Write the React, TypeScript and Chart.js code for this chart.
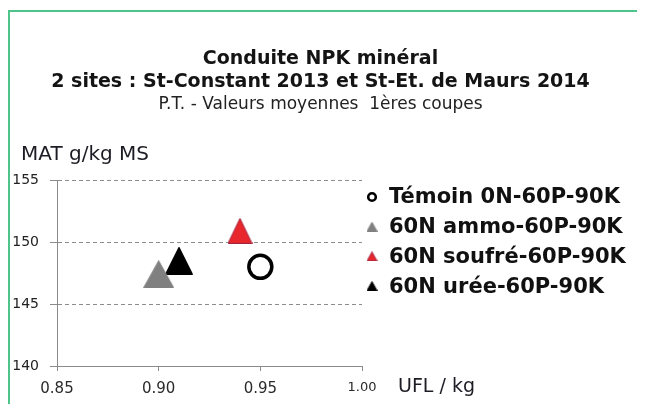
import React, { useEffect, useRef } from 'react';
import { Chart, registerables } from 'chart.js';

Chart.register(...registerables);

// ---- data ----
const seriesLabels = ['Témoin 0N-60P-90K', '60N ammo-60P-90K', '60N soufré-60P-90K', '60N urée-60P-90K'];
const uflValues = [0.95, 0.90, 0.94, 0.91];
const matValues = [148.0, 147.4, 150.9, 148.5];
const xTickValues = [0.85, 0.90, 0.95, 1.00];
const yTickValues = [140, 145, 150, 155];
const titleLines = ['Conduite NPK minéral', '2 sites : St-Constant 2013 et St-Et. de Maurs 2014'];
const subtitleText = 'P.T. - Valeurs moyennes  1ères coupes';
const yAxisTitle = 'MAT g/kg MS';
const xAxisTitle = 'UFL / kg';

// ---- styles ----
const FONT = '"DejaVu Sans", Verdana, sans-serif';
const markerKinds = ['circle', 'triangle', 'triangle', 'triangle'];
const markerFills = ['#ffffff', '#808080', '#e8262c', '#000000'];
const markerStrokes = ['#000000', '#808080', '#a32540', '#000000'];
const markerSizes: [number, number][] = [[24, 24], [31, 28], [25, 26], [28, 28]];

function makeTriangle(w: number, h: number, fill: string, stroke: string) {
  const c = document.createElement('canvas');
  c.width = w;
  c.height = h;
  const g = c.getContext('2d')!;
  g.beginPath();
  g.moveTo(w / 2, 0.5);
  g.lineTo(w - 0.5, h - 0.5);
  g.lineTo(0.5, h - 0.5);
  g.closePath();
  g.fillStyle = fill;
  g.fill();
  g.lineWidth = 1;
  g.strokeStyle = stroke;
  g.stroke();
  return c;
}

export default function App() {
  const ref = useRef<HTMLCanvasElement | null>(null);

  useEffect(() => {
    if (!ref.current) return;
    const bigMarkers = markerKinds.map((k, i) =>
      k === 'circle' ? 'circle' : makeTriangle(markerSizes[i][0], markerSizes[i][1], markerFills[i], markerStrokes[i])
    );
    const smallMarkers = markerKinds.map((k, i) =>
      k === 'circle' ? null : makeTriangle(11, 10, markerFills[i], markerStrokes[i])
    );

    const textPlugin = {
      id: 'customText',
      afterDraw(chart: any) {
        const ctx = chart.ctx as CanvasRenderingContext2D;
        const ca = chart.chartArea;
        ctx.save();
        ctx.fillStyle = '#141414';
        ctx.textAlign = 'center';
        ctx.textBaseline = 'alphabetic';
        const cx = chart.width / 2 - 2;
        ctx.font = `bold 19px ${FONT}`;
        ctx.fillText(titleLines[0], cx, 56);
        ctx.fillText(titleLines[1], cx, 79);
        ctx.font = `17px ${FONT}`;
        ctx.fillStyle = '#222';
        ctx.fillText(subtitleText, cx, 101);

        ctx.textAlign = 'left';
        ctx.font = `20px ${FONT}`;
        ctx.fillStyle = '#1c1c24';
        ctx.fillText(yAxisTitle, 13, ca.top - 20);
        ctx.font = `19px ${FONT}`;
        ctx.fillText(xAxisTitle, ca.right + 36, ca.bottom + 26);

        // legend
        ctx.font = `bold 21px ${FONT}`;
        ctx.textBaseline = 'middle';
        ctx.fillStyle = '#111';
        const mx = ca.right + 10;
        const tx = ca.right + 27;
        chart.data.datasets.forEach((ds: any, i: number) => {
          const y = ca.top + 17 + i * 29.7;
          if (markerKinds[i] === 'circle') {
            ctx.beginPath();
            ctx.arc(mx, y, 3.8, 0, Math.PI * 2);
            ctx.fillStyle = '#fff';
            ctx.fill();
            ctx.lineWidth = 2.6;
            ctx.strokeStyle = '#000';
            ctx.stroke();
          } else {
            const img = smallMarkers[i]!;
            ctx.drawImage(img, mx - img.width / 2, y - img.height / 2);
          }
          ctx.fillStyle = '#111';
          ctx.fillText(ds.label, tx, y + 1);
        });
        ctx.restore();
      },
    };

    const chart = new Chart(ref.current, {
      type: 'scatter',
      data: {
        datasets: seriesLabels.map((label, i) => ({
          label,
          data: [{ x: uflValues[i], y: matValues[i] }],
          pointStyle: bigMarkers[i] as any,
          pointRadius: markerKinds[i] === 'circle' ? 11.5 : 14,
          pointBackgroundColor: markerFills[i],
          pointBorderColor: markerStrokes[i],
          pointBorderWidth: markerKinds[i] === 'circle' ? 3.5 : 0,
          clip: false as any,
        })),
      },
      plugins: [textPlugin],
      options: {
        responsive: false,
        animation: false,
        layout: { padding: { top: 172, right: 275, bottom: 0, left: 0 } },
        plugins: {
          legend: { display: false },
          tooltip: { enabled: false },
          title: { display: false },
        },
        scales: {
          x: {
            type: 'linear',
            min: 0.85,
            max: 1.0,
            afterBuildTicks: (s: any) => {
              s.ticks = xTickValues.map((v) => ({ value: v }));
            },
            afterFit: (s: any) => {
              s.height = 38;
            },
            grid: {
              drawOnChartArea: false,
              drawTicks: true,
              tickLength: 5,
              tickColor: '#8a8a8a',
            },
            border: { color: '#8a8a8a', width: 1 },
            ticks: {
              padding: 9,
              color: '#2a2a2a',
              maxRotation: 0,
              font: (c: any) => ({ family: FONT, size: c.tick && c.tick.value === 1 ? 13 : 15 }),
              callback: (v: any) => Number(v).toFixed(2),
            },
          },
          y: {
            type: 'linear',
            min: 140,
            max: 155,
            afterBuildTicks: (s: any) => {
              s.ticks = yTickValues.map((v) => ({ value: v }));
            },
            afterFit: (s: any) => {
              s.width = 49;
            },
            grid: {
              color: (c: any) => (c.tick && c.tick.value === 140 ? 'rgba(0,0,0,0)' : '#8c8c8c'),
              lineWidth: 1,
              drawTicks: true,
              tickLength: 7,
              tickColor: '#8a8a8a',
            },
            border: { color: '#8a8a8a', width: 1, dash: [4, 3] },
            ticks: {
              padding: 11,
              color: '#222',
              font: { family: FONT, size: 14 },
              callback: (v: any) => String(v),
            },
          },
        },
      },
    });
    return () => chart.destroy();
  }, []);

  return (
    <div style={{ position: 'relative', width: 629, height: 396 }}>
      <canvas ref={ref} width={629} height={396} style={{ display: 'block' }} />
      <div
        style={{
          position: 'absolute',
          left: 0,
          top: 2,
          width: 636,
          height: 400,
          borderLeft: '2px solid #4fc488',
          borderTop: '2px solid #4fc488',
          boxSizing: 'border-box',
          pointerEvents: 'none',
        }}
      />
    </div>
  );
}
